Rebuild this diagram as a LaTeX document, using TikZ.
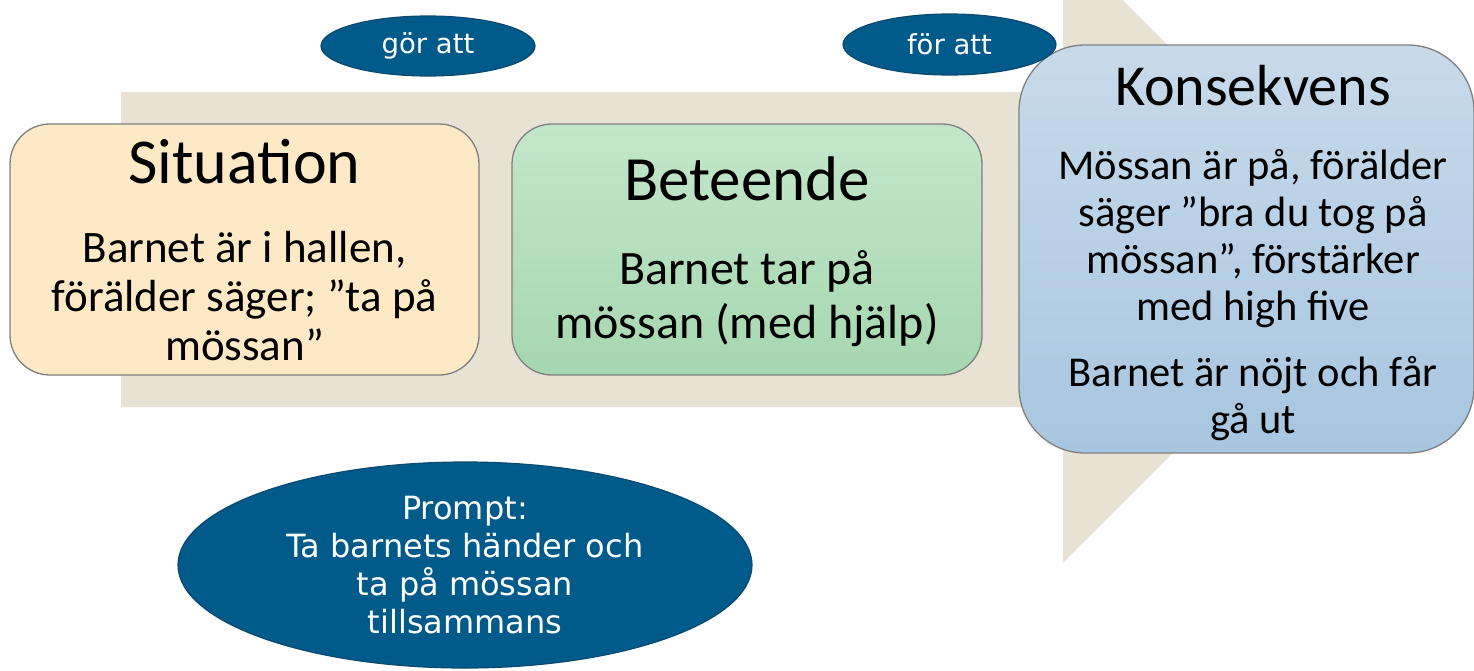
\documentclass[tikz,border=0pt]{standalone}
\usepackage{fontspec}
\setmainfont{Carlito}
\newfontfamily\verd{DejaVu Sans}
\usetikzlibrary{shapes.geometric}
\definecolor{beige}{HTML}{E8E2D5}
\definecolor{sitfill}{HTML}{FDE9C6}
\definecolor{grtop}{HTML}{C3E6CA}
\definecolor{grbot}{HTML}{A6D7AF}
\definecolor{bltop}{HTML}{C7DAEA}
\definecolor{blbot}{HTML}{A8C6E0}
\definecolor{ellfill}{HTML}{005A8A}
\definecolor{elldraw}{HTML}{0A4A70}
\definecolor{boxdraw}{HTML}{7F7F7F}
\tikzset{
  box/.style={draw=boxdraw, line width=1.3pt, inner sep=0pt},
  title/.style={inner sep=0pt, anchor=base},
  body/.style={align=center, inner sep=0pt},
  oval/.style={ellipse, fill=ellfill, draw=elldraw, line width=1.2pt, inner sep=0pt, text=white, align=center},
}
\begin{document}
\begin{tikzpicture}[x=1pt,y=-1pt]
\useasboundingbox (0,0) rectangle (1474,670);
\clip (0,0) rectangle (1474,670);
% background arrow
\fill[beige] (121,92) -- (1063,92) -- (1063,-60) -- (1374,251.5) -- (1063,563) -- (1063,407) -- (121,407) -- cycle;
% boxes
\node[box, fill=sitfill, rounded corners=40pt, minimum width=469pt, minimum height=251pt] (sit) at (244.5,249.5) {};
\node[box, top color=grtop, bottom color=grbot, rounded corners=40pt, minimum width=470pt, minimum height=251pt] (bet) at (747,249.5) {};
\node[box, top color=bltop, bottom color=blbot, rounded corners=66pt, minimum width=455pt, minimum height=408pt] (kon) at (1246.5,249) {};
% texts
\node[title, font=\fontsize{64}{66}\selectfont] (sitt) at (244.5,183) {Situation};
\node[body, font=\fontsize{45}{49}\selectfont] (sitb) at (244.5,296) {Barnet är i hallen,\\förälder säger; ”ta på\\mössan”};
\node[title, font=\fontsize{63}{66}\selectfont] (bett) at (747,200) {Beteende};
\node[body, font=\fontsize{48}{54}\selectfont] (betb) at (747,299) {Barnet tar på\\mössan (med hjälp)};
\node[title, font=\fontsize{58}{60}\selectfont] (kont) at (1253,105) {Konsekvens};
\node[body, font=\fontsize{42.5}{47}\selectfont] (konb1) at (1253,239) {Mössan är på, förälder\\säger ”bra du tog på\\mössan”, förstärker\\med high five};
\node[body, font=\fontsize{42.5}{47}\selectfont] (konb2) at (1253,399) {Barnet är nöjt och får\\gå ut};
% ellipses
\node[oval, minimum width=214pt, minimum height=60pt, font=\verd\fontsize{27.5}{30}\selectfont] (gor) at (428,46) {gör att};
\node[oval, minimum width=213pt, minimum height=61pt, font=\verd\fontsize{27.5}{30}\selectfont] (for) at (949.5,44.5) {för att};
\node[oval, minimum width=574pt, minimum height=206pt, font=\verd\fontsize{32}{38}\selectfont] (prompt) at (465,565) {Prompt:\\Ta barnets händer och\\ta på mössan\\tillsammans};
\end{tikzpicture}
\end{document}
